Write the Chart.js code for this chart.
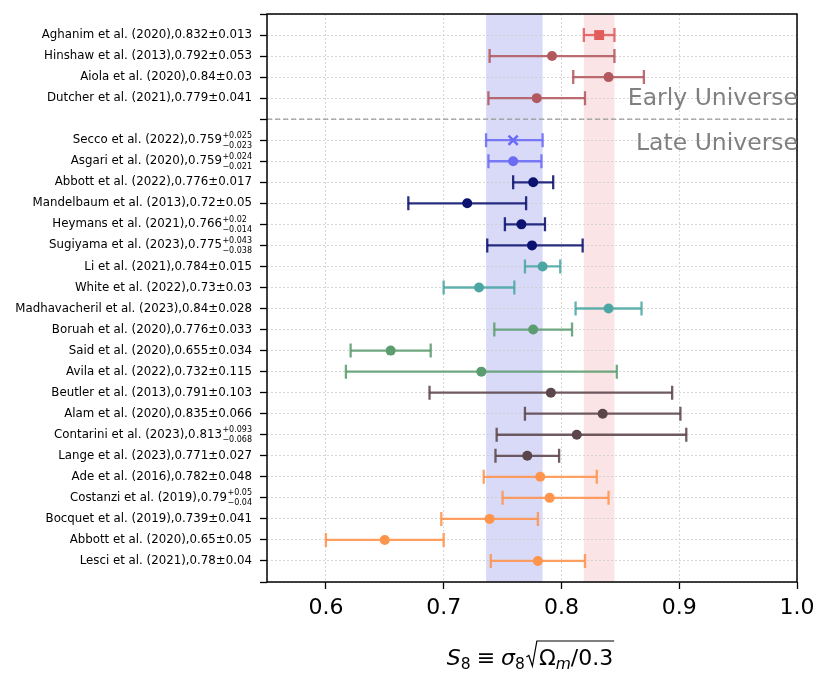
<!DOCTYPE html>
<html><head><meta charset="utf-8">
<script src="https://cdn.jsdelivr.net/npm/chart.js@4"></script>
<style>html,body{margin:0;padding:0;background:#fff}canvas{display:block}</style>
</head><body>
<canvas id="c" width="831" height="687"></canvas>
<script>
// ---------- data ----------
const authors = [
  'Aghanim et al. (2020)','Hinshaw et al. (2013)','Aiola et al. (2020)','Dutcher et al. (2021)',
  'Secco et al. (2022)','Asgari et al. (2020)','Abbott et al. (2022)','Mandelbaum et al. (2013)',
  'Heymans et al. (2021)','Sugiyama et al. (2023)','Li et al. (2021)','White et al. (2022)',
  'Madhavacheril et al. (2023)','Boruah et al. (2020)','Said et al. (2020)','Avila et al. (2022)',
  'Beutler et al. (2013)','Alam et al. (2020)','Contarini et al. (2023)','Lange et al. (2023)',
  'Ade et al. (2016)','Costanzi et al. (2019)','Bocquet et al. (2019)','Abbott et al. (2020)',
  'Lesci et al. (2021)'
];
const s8Values = [0.832,0.792,0.84,0.779, 0.759,0.759,0.776,0.72,0.766,0.775, 0.784,0.73,0.84,
  0.776,0.655,0.732, 0.791,0.835,0.813,0.771, 0.782,0.79,0.739,0.65,0.78];
const errUp = [0.013,0.053,0.03,0.041, 0.025,0.024,0.017,0.05,0.02,0.043, 0.015,0.03,0.028,
  0.033,0.034,0.115, 0.103,0.066,0.093,0.027, 0.048,0.05,0.041,0.05,0.04];
const errLo = [0.013,0.053,0.03,0.041, 0.023,0.021,0.017,0.05,0.014,0.038, 0.015,0.03,0.028,
  0.033,0.034,0.115, 0.103,0.066,0.068,0.027, 0.048,0.04,0.041,0.05,0.04];
const rowPositions = [0,1,2,3, 5,6,7,8,9,10,11,12,13,14,15,16,17,18,19,20,21,22,23,24,25];
const groupOf = [0,1,1,1, 2,2,3,3,3,3, 4,4,4, 5,5,5, 6,6,6,6, 7,7,7,7,7];
const groupColors = ['#e25c5c','#b2595f','#6b6bf6','#0c1270','#4ca7a4','#5c9d70','#5c454b','#ff944d'];
const markerOf = ['rect','circle','circle','circle','crossRot','circle','circle','circle','circle','circle',
  'circle','circle','circle','circle','circle','circle','circle','circle','circle','circle',
  'circle','circle','circle','circle','circle'];
const xTickValues = [0.6,0.7,0.8,0.9,1.0];
const yTickRows = [-1,0,1,2,3,4,5,6,7,8,9,10,11,12,13,14,15,16,17,18,19,20,21,22,23,24,25,26];
const separatorRow = 4;
const regionLabels = ['Early Universe','Late Universe'];
const lateBandRef = 4;   // Secco et al. (2022)
const earlyBandRef = 0;  // Aghanim et al. (2020)

// ---------- helpers ----------
const FONT = 'DejaVu Sans';
function labelMain(i){
  const sym = errUp[i] === errLo[i];
  return authors[i] + ',' + String(s8Values[i]) + (sym ? '±' + String(errUp[i]) : '');
}

const custom = {
  id: 'custom',
  beforeDraw(chart){
    const {ctx, chartArea:a, scales:{x}} = chart;
    ctx.save();
    const bl = x.getPixelForValue(s8Values[lateBandRef]-errLo[lateBandRef]);
    const br = x.getPixelForValue(s8Values[lateBandRef]+errUp[lateBandRef]);
    ctx.fillStyle = '#d8daf8';
    ctx.fillRect(bl, a.top, br-bl, a.bottom-a.top);
    const rl = x.getPixelForValue(s8Values[earlyBandRef]-errLo[earlyBandRef]);
    const rr = x.getPixelForValue(s8Values[earlyBandRef]+errUp[earlyBandRef]);
    ctx.fillStyle = '#fbe4e5';
    ctx.fillRect(rl, a.top, rr-rl, a.bottom-a.top);
    ctx.restore();
  },
  beforeDatasetsDraw(chart){
    const {ctx, chartArea:a, scales:{x,y}} = chart;
    ctx.save();
    // separator
    const sy = y.getPixelForValue(separatorRow);
    ctx.strokeStyle = '#999999'; ctx.lineWidth = 1.3; ctx.setLineDash([5,3]);
    ctx.beginPath(); ctx.moveTo(a.left, sy); ctx.lineTo(a.right, sy); ctx.stroke();
    ctx.setLineDash([]);
    // error bars
    for (let i=0;i<s8Values.length;i++){
      const py = y.getPixelForValue(rowPositions[i]);
      const x1 = x.getPixelForValue(s8Values[i]-errLo[i]);
      const x2 = x.getPixelForValue(s8Values[i]+errUp[i]);
      ctx.strokeStyle = groupColors[groupOf[i]];
      ctx.globalAlpha = 0.88;
      ctx.lineWidth = 2.3;
      ctx.beginPath(); ctx.moveTo(x1,py); ctx.lineTo(x2,py); ctx.stroke();
      ctx.beginPath();
      ctx.moveTo(x1,py-7); ctx.lineTo(x1,py+7);
      ctx.moveTo(x2,py-7); ctx.lineTo(x2,py+7);
      ctx.stroke();
    }
    ctx.restore();
  },
  afterDraw(chart){
    const {ctx, chartArea:a, scales:{x,y}} = chart;
    ctx.save();
    // frame
    ctx.strokeStyle = '#000'; ctx.lineWidth = 1.5;
    ctx.strokeRect(a.left, a.top, a.right-a.left, a.bottom-a.top);
    // region labels
    ctx.fillStyle = '#808080';
    ctx.font = `23.5px "${FONT}"`;
    ctx.textAlign = 'right'; ctx.textBaseline = 'alphabetic';
    ctx.fillText(regionLabels[0], a.right+1, y.getPixelForValue(3)+7);
    ctx.fillText(regionLabels[1], a.right+1, y.getPixelForValue(5)+10);
    // y labels
    const rx = a.left - 15;
    ctx.fillStyle = '#000';
    for (let i=0;i<authors.length;i++){
      const py = y.getPixelForValue(rowPositions[i]);
      const main = labelMain(i);
      ctx.textBaseline = 'middle';
      if (errUp[i] === errLo[i]){
        ctx.font = `11.8px "${FONT}"`; ctx.textAlign = 'right';
        ctx.fillText(main, rx, py);
      } else {
        const sup = '+' + String(errUp[i]);
        const sub = '\u2212' + String(errLo[i]);
        ctx.font = `8px "${FONT}"`;
        const w = Math.max(ctx.measureText(sup).width, ctx.measureText(sub).width);
        ctx.textAlign = 'left';
        ctx.fillText(sup, rx - w, py - 4.5);
        ctx.fillText(sub, rx - w, py + 5.5);
        ctx.font = `11.8px "${FONT}"`; ctx.textAlign = 'right';
        ctx.fillText(main, rx - w - 0.5, py);
      }
    }
    // x-axis title: S8 = sigma8 sqrt(Omega_m/0.3)
    const big = 22, small = 15.5, base = 665;
    const parts = [
      {t:'S', f:`italic ${big}px "${FONT}"`, dy:0},
      {t:'8', f:`${small}px "${FONT}"`, dy:3.5},
      {gap:6},
      {t:'\u2261', f:`${big}px "${FONT}"`, dy:0},
      {gap:6},
      {t:'\u03c3', f:`italic ${big}px "${FONT}"`, dy:0},
      {t:'8', f:`${small}px "${FONT}"`, dy:3.5},
      {rad:true, w:14},
      {t:'\u03a9', f:`${big}px "${FONT}"`, dy:0, over:true},
      {t:'m', f:`italic ${small}px "${FONT}"`, dy:3.5, over:true},
      {t:'/0.3', f:`${big}px "${FONT}"`, dy:0, over:true}
    ];
    let total = 0;
    parts.forEach(p=>{ if(p.rad){p.width=p.w;} else if(p.gap){p.width=p.gap;} else {ctx.font=p.f; p.width=ctx.measureText(p.t).width;} total+=p.width; });
    let cx = 530 - total/2;
    ctx.textAlign='left'; ctx.textBaseline='alphabetic'; ctx.fillStyle='#000';
    let overEnd=null, radX=null;
    parts.forEach(p=>{
      if (p.rad){ radX = cx; }
      else if (p.t){ ctx.font=p.f; ctx.fillText(p.t, cx, base+p.dy); if(p.over){ overEnd=cx+p.width; } }
      cx += p.width;
    });
    const top = base - 24;
    ctx.strokeStyle='#000'; ctx.lineWidth=1.2;
    ctx.beginPath();
    ctx.moveTo(radX+1.5, base-8); ctx.lineTo(radX+4, base-9.5);
    ctx.lineTo(radX+7.5, base+1); ctx.lineTo(radX+12, top); ctx.lineTo(overEnd+1, top);
    ctx.stroke();
    ctx.restore();
  }
};

const pointData = rowPositions.map((r,i)=>({x:s8Values[i], y:r}));
const ptColors = groupOf.map(g=>groupColors[g]);

new Chart(document.getElementById('c'), {
  type: 'scatter',
  data: { datasets: [{
    data: pointData,
    pointStyle: markerOf,
    pointRadius: markerOf.map(m => m==='rect' ? 7 : (m==='crossRot' ? 6.5 : 5)),
    pointBackgroundColor: ptColors,
    pointBorderColor: ptColors,
    pointBorderWidth: markerOf.map(m => m==='crossRot' ? 2.6 : 0),
    showLine: false
  }]},
  plugins: [custom],
  options: {
    responsive: false, animation: false, devicePixelRatio: 1,
    layout: { padding: { top: 14, right: 34, left: 0, bottom: 0 } },
    plugins: { legend: {display:false}, tooltip: {enabled:false} },
    scales: {
      x: {
        type: 'linear', min: 0.55, max: 1.0,
        afterBuildTicks: s => { s.ticks = xTickValues.map(v=>({value:v})); },
        afterFit: s => { s.height = 105; },
        ticks: { font: {family: FONT, size: 22}, color: '#000', padding: 6, maxRotation: 0, autoSkip: false,
                 callback: v => Number(v).toFixed(1) },
        grid: { color: '#cdcdcd', lineWidth: 0.8, tickColor: '#000', tickLength: 7, tickWidth: 1.3, tickBorderDash: [] },
        border: { display: false, dash: [2,2] }
      },
      y: {
        type: 'linear', reverse: true, min: -1, max: 26,
        afterBuildTicks: s => { s.ticks = yTickRows.map(v=>({value:v})); },
        afterFit: s => { s.width = 267; },
        ticks: { callback: () => '', padding: 0, autoSkip: false },
        grid: { color: '#cdcdcd', lineWidth: 0.8, tickColor: '#000', tickLength: 7, tickWidth: 1.3, tickBorderDash: [] },
        border: { display: false, dash: [2,2] }
      }
    }
  }
});
</script>
</body></html>
